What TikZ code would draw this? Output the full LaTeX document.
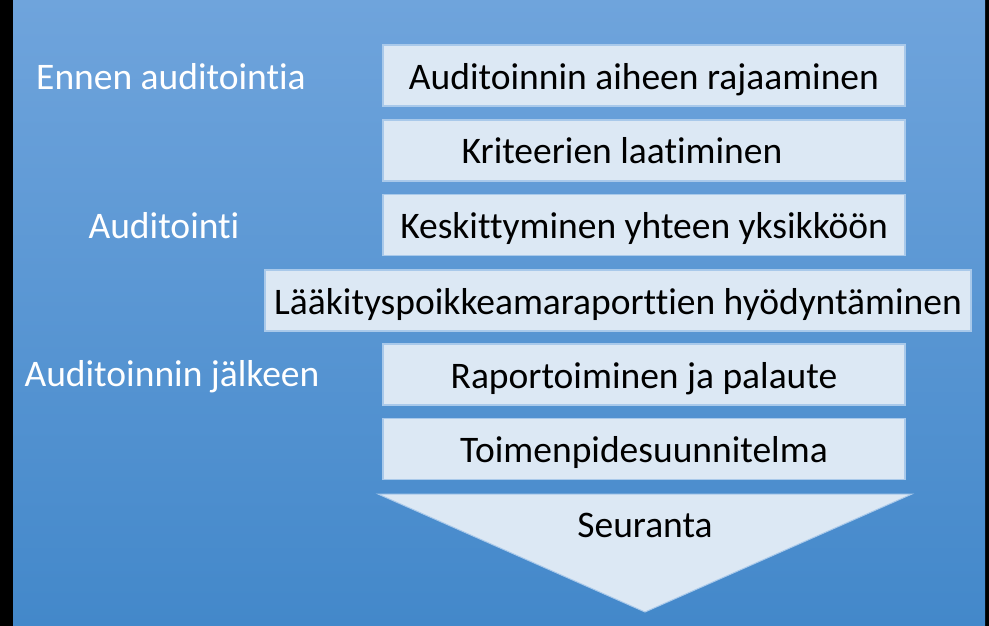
\documentclass[tikz,border=0pt]{standalone}
\usepackage{fontspec}
\setmainfont[Ligatures=NoCommon]{Carlito}
\definecolor{bgtop}{HTML}{6FA4DC}
\definecolor{bgbottom}{HTML}{4388CA}
\definecolor{boxfill}{HTML}{DCE8F4}
\definecolor{boxline}{HTML}{A9C9EA}
\begin{document}
\begin{tikzpicture}[x=1pt,y=-1pt,
    stage/.style={draw=boxline,line width=1.5pt,fill=boxfill,inner sep=0pt,
      minimum width=522pt,minimum height=61pt,text height=27pt,text depth=0pt,
      font=\fontsize{37.5}{44}\selectfont},
    phase/.style={text=white,anchor=base,font=\fontsize{37.5}{44}\selectfont}]
        % background
        \fill[black] (0,0) rectangle (989,626);
        \shade[top color=bgtop,bottom color=bgbottom] (13,0) rectangle (985,626);
        
        % phases
        \node[phase] (before) at (171,89) {Ennen auditointia};
        \node[phase] (audit) at (164,238) {Auditointi};
        \node[phase] (after) at (172,386) {Auditoinnin jälkeen};
        
        % steps
        \node[stage] (scope) at (644,75.5) {Auditoinnin aiheen rajaaminen};
        \node[stage] (criteria) at (644,150.5) {Kriteerien laatiminen\hspace{44pt}\mbox{}};
        \node[stage] (unit) at (644,225) {Keskittyminen yhteen yksikköön};
        \node[stage,minimum width=706pt] (reports) at (618,300.5) {Lääkityspoikkeamaraporttien hyödyntäminen};
        \node[stage] (feedback) at (644,374.5) {Raportoiminen ja palaute};
        \node[stage] (plan) at (644,449) {Toimenpidesuunnitelma};
        
        % follow-up arrow
        \fill[boxfill,draw=boxline,line width=1pt] (378,494) -- (912,494) -- (645,612) -- cycle;
        \node[anchor=base,font=\fontsize{37.5}{44}\selectfont] (followup) at (645,537) {Seuranta};
\end{tikzpicture}
\end{document}
